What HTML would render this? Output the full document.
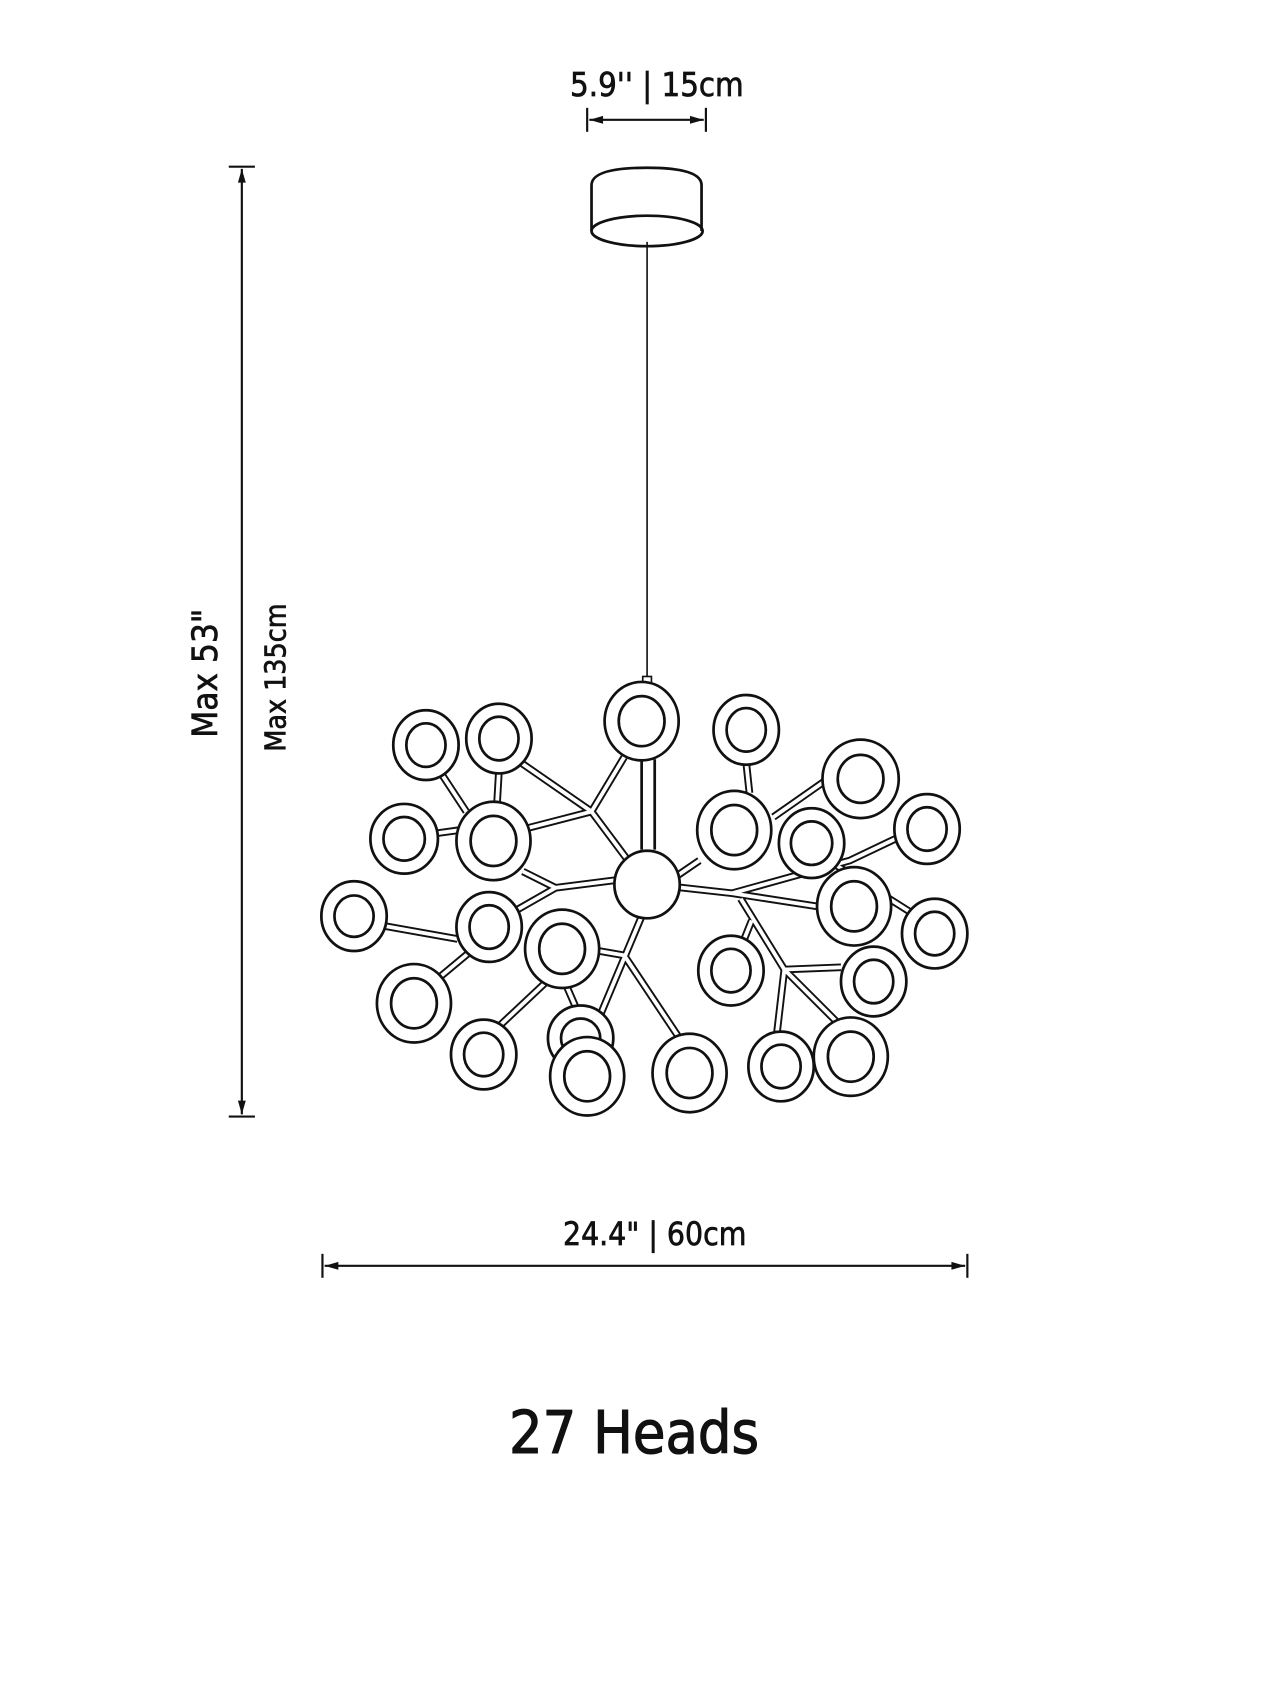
<!DOCTYPE html>
<html><head><meta charset="utf-8"><style>
html,body{margin:0;padding:0;background:#fff;}
svg{display:block;}
text{font-family:"DejaVu Sans Condensed","Liberation Sans",sans-serif;fill:#111;stroke:#111;stroke-width:0.6;}
</style></head><body>
<svg width="1280" height="1707" viewBox="0 0 1175 1567" preserveAspectRatio="none" xmlns="http://www.w3.org/2000/svg">
<defs>
<marker id="ah" viewBox="0 0 14 10" refX="14" refY="5" markerWidth="14" markerHeight="9" orient="auto-start-reverse" markerUnits="userSpaceOnUse"><path d="M0,1 L14,5 L0,9 Z" fill="#111"/></marker>
</defs>
<rect width="1175" height="1567" fill="#fff"/>
<text x="603" y="88" font-size="30" text-anchor="middle">5.9'' | 15cm</text>
<line x1="539" y1="99" x2="539" y2="121" stroke="#111" stroke-width="2"/>
<line x1="648" y1="99" x2="648" y2="121" stroke="#111" stroke-width="2"/>
<line x1="541" y1="110" x2="646" y2="110" stroke="#111" stroke-width="2" marker-start="url(#ah)" marker-end="url(#ah)"/>
<path d="M543,212 L543,170 Q543,154 594,154 Q644,154 644,170 L644,212" fill="none" stroke="#111" stroke-width="2.5"/>
<ellipse cx="594" cy="212" rx="51" ry="14" fill="none" stroke="#111" stroke-width="2.5"/>
<line x1="594" y1="222" x2="594" y2="622" stroke="#111" stroke-width="1.5"/>
<rect x="590" y="621" width="8" height="9" fill="#fff" stroke="#111" stroke-width="1.5"/>
<line x1="210" y1="153" x2="234" y2="153" stroke="#111" stroke-width="2"/>
<line x1="210" y1="1025" x2="234" y2="1025" stroke="#111" stroke-width="2"/>
<line x1="222" y1="155" x2="222" y2="1023" stroke="#111" stroke-width="2" marker-start="url(#ah)" marker-end="url(#ah)"/>
<text transform="translate(199,618) rotate(-90)" font-size="32" text-anchor="middle">Max 53"</text>
<text transform="translate(262,622) rotate(-90)" font-size="26" text-anchor="middle">Max 135cm</text>
<line x1="296" y1="1151" x2="296" y2="1173" stroke="#111" stroke-width="2"/>
<line x1="888" y1="1151" x2="888" y2="1173" stroke="#111" stroke-width="2"/>
<line x1="298" y1="1162" x2="886" y2="1162" stroke="#111" stroke-width="2" marker-start="url(#ah)" marker-end="url(#ah)"/>
<text x="601" y="1143" font-size="29" text-anchor="middle">24.4" | 60cm</text>
<text x="582" y="1334" font-size="54" text-anchor="middle" style="stroke-width:1">27 Heads</text>
<g stroke="#111" stroke-width="7" fill="none">
<path d="M478,700 L543,745 L590,808 M543,745 L573,695 M543,745 L485,760 M405,710 L428,745 M458,708 L456,742 M400,765 L422,762 M480,800 L510,815 L565,808 M510,815 L475,835 M353,850 L420,862 M430,875 L400,900 M600,815 L535,970 M573,877 L550,873 M573,877 L625,955 M520,905 L530,928 M505,898 L455,945 M620,805 L642,790 M600,812 L672,820 L750,832 M672,820 L780,790 L822,770 M680,825 L720,890 L775,945 M720,890 L772,888 M720,890 L713,950 M690,845 L682,865 M745,780 L840,840 M710,750 L760,715 M685,700 L688,728"/>
<path d="M589,780 L589,697 M601,780 L601,697" stroke-width="2.5"/>
</g>
<g stroke="#fff" stroke-width="3.5" fill="none">
<path d="M478,700 L543,745 L590,808 M543,745 L573,695 M543,745 L485,760 M405,710 L428,745 M458,708 L456,742 M400,765 L422,762 M480,800 L510,815 L565,808 M510,815 L475,835 M353,850 L420,862 M430,875 L400,900 M600,815 L535,970 M573,877 L550,873 M573,877 L625,955 M520,905 L530,928 M505,898 L455,945 M620,805 L642,790 M600,812 L672,820 L750,832 M672,820 L780,790 L822,770 M680,825 L720,890 L775,945 M720,890 L772,888 M720,890 L713,950 M690,845 L682,865 M745,780 L840,840 M710,750 L760,715 M685,700 L688,728"/>
</g>
<ellipse cx="594" cy="812" rx="30" ry="31" fill="#fff" stroke="#111" stroke-width="2.5"/>
<g fill="#fff" stroke="#111" stroke-width="2.5">
<ellipse cx="391" cy="684" rx="30" ry="32"/><ellipse cx="391" cy="684" rx="18" ry="20"/>
<ellipse cx="458" cy="678" rx="30" ry="32"/><ellipse cx="458" cy="678" rx="18" ry="20"/>
<ellipse cx="589" cy="662" rx="34" ry="36"/><ellipse cx="589" cy="662" rx="21" ry="23"/>
<ellipse cx="685" cy="670" rx="30" ry="32"/><ellipse cx="685" cy="670" rx="18" ry="20"/>
<ellipse cx="790" cy="715" rx="35" ry="36"/><ellipse cx="790" cy="715" rx="21" ry="22"/>
<ellipse cx="851" cy="761" rx="30" ry="32"/><ellipse cx="851" cy="761" rx="18" ry="20"/>
<ellipse cx="371" cy="770" rx="31" ry="32"/><ellipse cx="371" cy="770" rx="19" ry="20"/>
<ellipse cx="453" cy="772" rx="34" ry="36"/><ellipse cx="453" cy="772" rx="21" ry="23"/>
<ellipse cx="674" cy="762" rx="34" ry="36"/><ellipse cx="674" cy="762" rx="21" ry="23"/>
<ellipse cx="745" cy="774" rx="30" ry="32"/><ellipse cx="745" cy="774" rx="19" ry="20"/>
<ellipse cx="325" cy="841" rx="30" ry="32"/><ellipse cx="325" cy="841" rx="18" ry="19"/>
<ellipse cx="449" cy="851" rx="30" ry="32"/><ellipse cx="449" cy="851" rx="18" ry="20"/>
<ellipse cx="516" cy="871" rx="34" ry="36"/><ellipse cx="516" cy="871" rx="21" ry="23"/>
<ellipse cx="784" cy="832" rx="34" ry="36"/><ellipse cx="784" cy="832" rx="21" ry="23"/>
<ellipse cx="858" cy="857" rx="30" ry="32"/><ellipse cx="858" cy="857" rx="18" ry="20"/>
<ellipse cx="380" cy="921" rx="34" ry="36"/><ellipse cx="380" cy="921" rx="21" ry="23"/>
<ellipse cx="671" cy="891" rx="30" ry="32"/><ellipse cx="671" cy="891" rx="18" ry="20"/>
<ellipse cx="802" cy="901" rx="30" ry="32"/><ellipse cx="802" cy="901" rx="18" ry="20"/>
<ellipse cx="444" cy="968" rx="30" ry="32"/><ellipse cx="444" cy="968" rx="18" ry="20"/>
<ellipse cx="533" cy="953" rx="30" ry="30"/><ellipse cx="533" cy="953" rx="18" ry="18"/>
<ellipse cx="539" cy="988" rx="34" ry="36"/><ellipse cx="539" cy="988" rx="21" ry="23"/>
<ellipse cx="633" cy="985" rx="34" ry="36"/><ellipse cx="633" cy="985" rx="21" ry="23"/>
<ellipse cx="717" cy="979" rx="30" ry="32"/><ellipse cx="717" cy="979" rx="18" ry="20"/>
<ellipse cx="781" cy="970" rx="34" ry="36"/><ellipse cx="781" cy="970" rx="21" ry="23"/>
</g>
</svg>
</body></html>
